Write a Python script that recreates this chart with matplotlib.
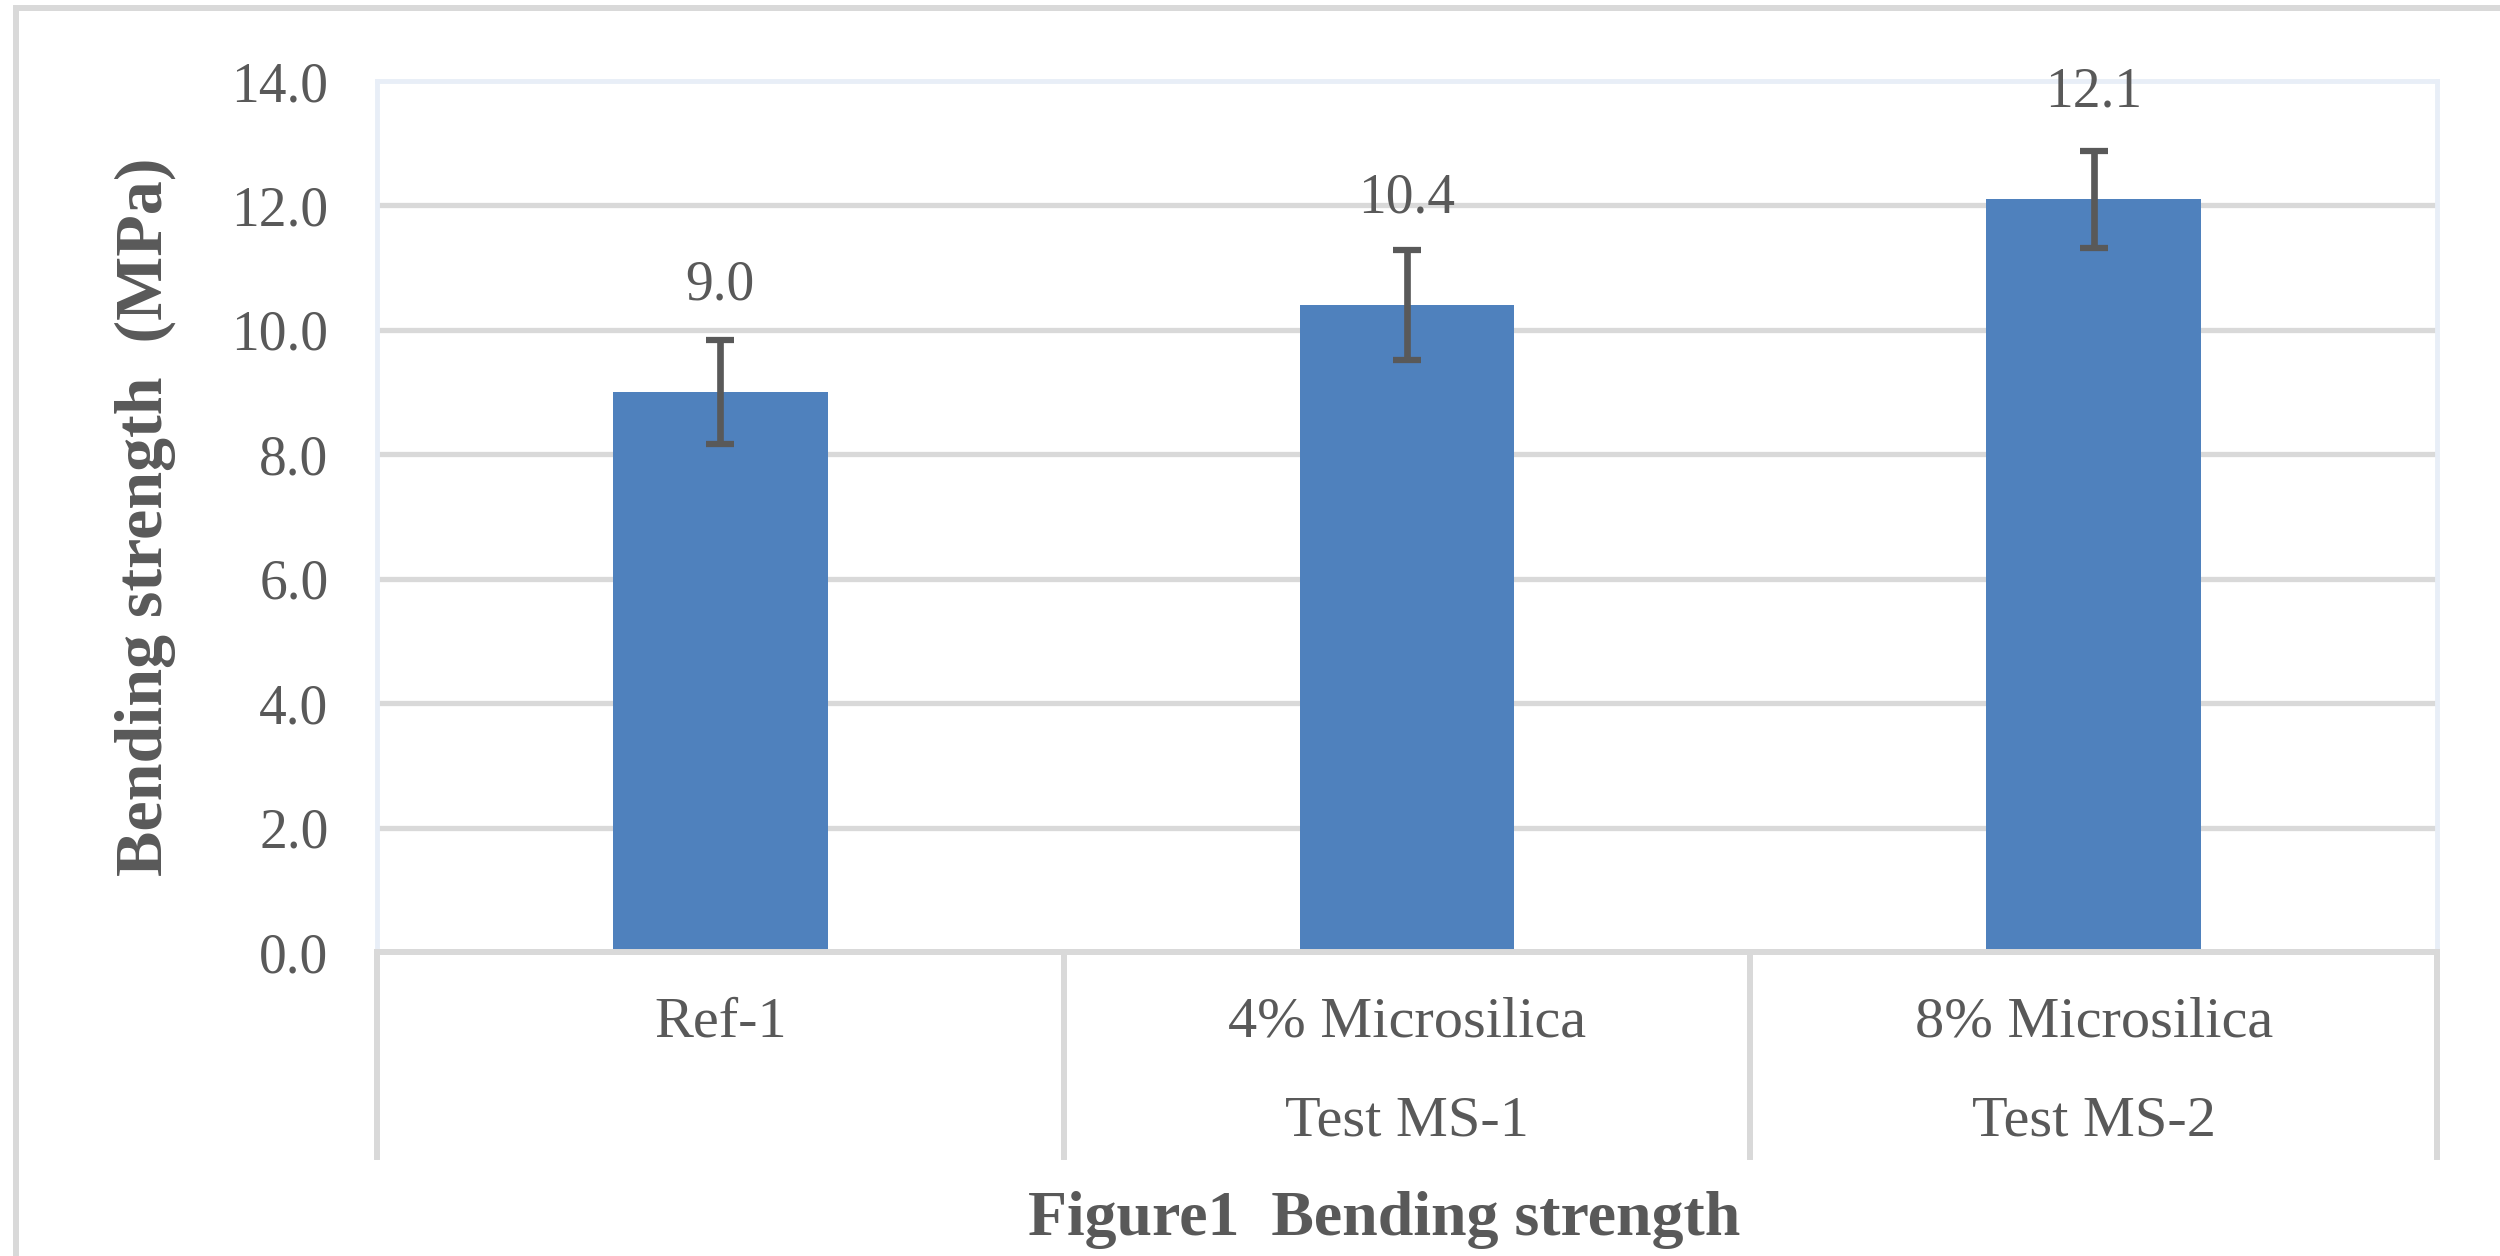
import matplotlib
matplotlib.use("Agg")
import matplotlib.pyplot as plt
import matplotlib.transforms as mtransforms
from matplotlib.patches import Rectangle

# data
groups = ["Ref-1", "4% Microsilica", "8% Microsilica"]
sub_labels = ["", "Test MS-1", "Test MS-2"]
strength = [9.0, 10.4, 12.1]
errors = [0.83, 0.88, 0.78]
y_ticks = [0, 2, 4, 6, 8, 10, 12, 14]

TEXT = "#595959"
GRID = "#D9D9D9"
BAR = "#4F81BD"

plt.rcParams["font.family"] = ["Liberation Serif", "DejaVu Serif"]

fig = plt.figure(figsize=(25, 12.56), dpi=100)
ax = fig.add_axes([0.1508, 0.2420, 0.824, 0.6935])

x = list(range(len(groups)))
ax.bar(x, strength, width=0.313, color=BAR, zorder=3)
ax.errorbar(x, strength, yerr=errors, fmt="none", ecolor=TEXT,
            elinewidth=4.8, capsize=10, capthick=4.5, zorder=4)

for xi, v in zip(x, strength):
    ax.annotate(f"{v:.1f}", (xi, v), xytext=(0, 77), textcoords="offset points",
                ha="center", va="center", fontsize=40, color=TEXT)

ax.set_xlim(-0.5, len(groups) - 0.5)
ax.set_ylim(0, 14)
ax.set_yticks(y_ticks)
ax.set_yticklabels([f"{t:.1f}" for t in y_ticks])
ax.hlines(y_ticks[1:-1], -0.5, len(groups) - 0.5, colors=GRID, linewidth=3.8, zorder=1)

ax.set_xticks(x)
ax.set_xticklabels(groups)
ax.tick_params(axis="x", length=0, pad=32, labelsize=42, labelcolor=TEXT)
ax.tick_params(axis="y", length=0, pad=35, labelsize=40, labelcolor=TEXT)

# second row of category labels
trans = mtransforms.blended_transform_factory(ax.transData, ax.transAxes)
for xi, lab in zip(x, sub_labels):
    ax.text(xi, -0.195, lab, transform=trans, ha="center", va="center",
            fontsize=42, color=TEXT)

# category separators below the axis
for b in [i - 0.5 for i in range(len(groups) + 1)]:
    ax.plot([b, b], [0, -0.235], transform=trans, color=GRID, linewidth=4.3,
            clip_on=False, zorder=2)

for side in ["top", "left", "right"]:
    ax.spines[side].set_color("#E8EEF7")
    ax.spines[side].set_linewidth(3.5)
ax.spines["bottom"].set_color(GRID)
ax.spines["bottom"].set_linewidth(4.3)
ax.spines["bottom"].set_zorder(5)

ax.set_ylabel("Bending strength  (MPa)", fontsize=49, fontweight="bold",
              color=TEXT, labelpad=40)

fig.text(0.5536, 0.029, "Figure1  Bending strength", ha="center", va="center",
         fontsize=46, fontweight="bold", color=TEXT)

# outer frame around the figure
fig.add_artist(Rectangle((0.0064, -0.1), 1.2, 1.0936, transform=fig.transFigure,
                         fill=False, edgecolor=GRID, linewidth=4.3))

fig.savefig("out.png", dpi=100, facecolor="white")
